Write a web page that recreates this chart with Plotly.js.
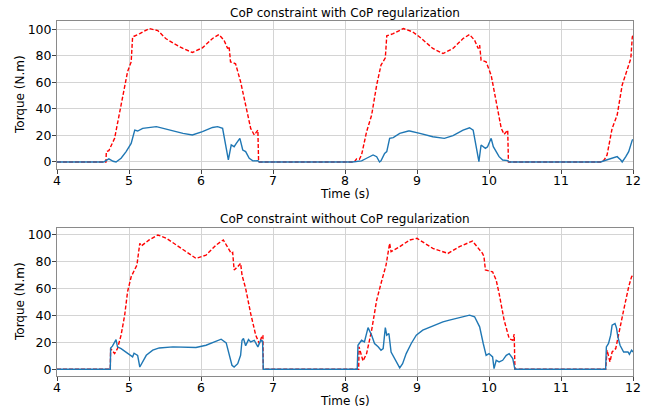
<!DOCTYPE html>
<html>
<head>
<meta charset="utf-8">
<script src="https://cdn.plot.ly/plotly-3.0.1.min.js"></script>
<style>html,body{margin:0;padding:0;background:#fff;}#chart{width:656px;height:411px;}</style>
</head>
<body>
<div id="chart"></div>
<script>
// ---- Data ----
const titleTop = "CoP constraint with CoP regularization";
const titleBottom = "CoP constraint without CoP regularization";
const xLabel = "Time (s)";
const yLabel = "Torque (N.m)";
const xTicks = [4, 5, 6, 7, 8, 9, 10, 11, 12];
const yTicks = [0, 20, 40, 60, 80, 100];

// Top subplot: red dashed series
const tTopRed = [4, 4.68, 4.685, 4.72, 4.80, 4.87, 4.94, 4.98, 5.03, 5.05, 5.15, 5.28, 5.40, 5.51, 5.63, 5.75, 5.88, 6.02, 6.16, 6.25, 6.32, 6.37, 6.39, 6.41, 6.48, 6.55, 6.62, 6.69, 6.74, 6.79, 6.80,
  8.13, 8.16, 8.20, 8.23, 8.30, 8.37, 8.44, 8.50, 8.56, 8.58, 8.67, 8.81, 8.94, 9.04, 9.22, 9.36, 9.50, 9.64, 9.73, 9.80, 9.85, 9.87, 9.89, 9.96, 10.03, 10.10, 10.17, 10.21, 10.26, 10.27,
  11.55, 11.60, 11.64, 11.71, 11.78, 11.85, 11.92, 11.97, 11.99, 12];
const vTopRed = [0, 0, 7.8, 8.5, 17.8, 37.8, 56.6, 68, 75.4, 94.2, 96.7, 100.5, 99, 93, 89, 85.5, 82.5, 86, 93, 96, 91.7, 85.5, 87, 75.4, 74, 60.4, 42.9, 25.3, 20.3, 24, 0,
  0, 2.3, 2, 5.3, 22.8, 35.3, 58, 73, 78.4, 95, 96.7, 100.5, 98, 94, 85.5, 81.7, 85.5, 93, 96, 91.7, 85.5, 88, 76.7, 75.4, 65.4, 45.4, 25.3, 20.8, 24, 0,
  0, 1.5, 5.3, 25.3, 35.3, 58, 70.4, 78, 94, 96];

// Top subplot: blue solid series
const tTopBlue = [4, 4.65, 4.68, 4.72, 4.78, 4.82, 4.89, 4.96, 5.03, 5.08, 5.12, 5.19, 5.38, 5.56, 5.75, 5.88, 6.02, 6.16, 6.23, 6.30, 6.35, 6.38, 6.42, 6.46, 6.49, 6.54, 6.58, 6.62, 6.67, 6.72, 6.79, 6.81,
  8.10, 8.23, 8.30, 8.35, 8.39, 8.44, 8.48, 8.50, 8.55, 8.58, 8.62, 8.67, 8.76, 8.88, 8.90, 9.04, 9.22, 9.38, 9.50, 9.64, 9.73, 9.78, 9.82, 9.86, 9.89, 9.92, 9.95, 9.98, 10.03, 10.06, 10.10, 10.14, 10.19, 10.26, 10.28,
  11.55, 11.62, 11.71, 11.78, 11.83, 11.85, 11.90, 11.94, 11.99, 12];
const vTopBlue = [0, 0, 1, 2.3, 0.5, 0, 2.8, 7.8, 14, 24, 23.3, 25.3, 26.6, 24, 21.5, 20.3, 22.8, 26, 26.6, 25.3, 10.3, 1.5, 12.8, 11.5, 14, 17.8, 9, 7.8, 2.8, 0.8, 1, 0,
  0, 0.8, 2.8, 4, 5.3, 4, 0, 0.8, 6.5, 7.8, 17.8, 18.3, 21.5, 23.3, 23.3, 21.5, 19, 17.8, 19.8, 24, 25.8, 24, 12.8, 0.3, 12.8, 11.5, 10.3, 11.5, 17.8, 11.5, 7.8, 4, 1.5, 1, 0,
  0, 1.3, 2.8, 4, 1.5, 0, 4, 7.8, 16.5, 17];

// Bottom subplot: red dashed series
const tBotRed = [4, 4.74, 4.745, 4.80, 4.84, 4.89, 4.94, 4.98, 5.03, 5.08, 5.11, 5.15, 5.17, 5.28, 5.40, 5.52, 5.75, 5.93, 6.07, 6.21, 6.31, 6.37, 6.42, 6.44, 6.46, 6.51, 6.55, 6.57, 6.62, 6.69, 6.76, 6.81, 6.85, 6.86, 6.865,
  8.19, 8.195, 8.25, 8.30, 8.37, 8.44, 8.50, 8.57, 8.62, 8.64, 8.76, 8.90, 9.00, 9.22, 9.43, 9.59, 9.77, 9.84, 9.91, 9.93, 9.95, 10.05, 10.10, 10.14, 10.21, 10.28, 10.33, 10.35, 10.36,
  11.62, 11.64, 11.68, 11.71, 11.76, 11.80, 11.87, 11.94, 11.98, 12];
const vBotRed = [0, 0, 15.4, 11.7, 15.4, 25.4, 40.3, 57.7, 68.9, 73.9, 77.6, 93.8, 91.8, 96.3, 100, 97.5, 88.8, 82.6, 85, 92.5, 96.3, 91.3, 86.3, 87, 73.9, 76.4, 78.9, 70.1, 60.2, 41.5, 25.4, 19.2, 25.4, 25, 0,
  0, 16.7, 6.2, 11.7, 29.1, 51.5, 63.9, 77.6, 93.8, 87.6, 91.3, 96.3, 97.5, 90, 86.3, 91.3, 95.5, 91.3, 86.3, 84, 73.9, 72.6, 66.4, 56.5, 36.6, 22.9, 21.6, 26.1, 0,
  0, 14.2, 5.5, 12.9, 15.4, 26.6, 44, 61.4, 68.9, 70.1];

// Bottom subplot: blue solid series
const tBotBlue = [4, 4.74, 4.745, 4.77, 4.82, 4.84, 4.89, 4.96, 5.05, 5.07, 5.12, 5.15, 5.19, 5.24, 5.33, 5.42, 5.61, 5.75, 5.93, 6.07, 6.21, 6.28, 6.35, 6.40, 6.43, 6.46, 6.51, 6.55, 6.57, 6.59, 6.62, 6.66, 6.69, 6.74, 6.79, 6.83, 6.855, 6.865,
  8.17, 8.18, 8.23, 8.27, 8.32, 8.37, 8.41, 8.46, 8.50, 8.53, 8.56, 8.58, 8.61, 8.64, 8.69, 8.76, 8.80, 8.85, 8.92, 8.99, 9.08, 9.22, 9.36, 9.45, 9.59, 9.73, 9.80, 9.87, 9.92, 9.96, 10.00, 10.05, 10.07, 10.10, 10.14, 10.19, 10.24, 10.28, 10.33, 10.36,
  11.62, 11.63, 11.66, 11.69, 11.71, 11.75, 11.77, 11.79, 11.82, 11.87, 11.93, 11.95, 11.98, 12];
const vBotBlue = [0, 0, 15.9, 17.2, 22.1, 16.7, 15.4, 12.9, 9.2, 12, 10.4, 1.7, 5.5, 10.4, 14.2, 15.9, 16.7, 16.7, 16.2, 17.9, 21.1, 22.4, 19.7, 9.2, 3, 1.7, 4.2, 10.4, 21.6, 22.9, 17.5, 22.1, 20.4, 21.6, 16.7, 21.6, 21, 0,
  0, 17.9, 21.6, 20.4, 31, 25.4, 19.2, 16.7, 14.2, 15.4, 31, 25.4, 26.6, 12.9, 8, 1, 4.2, 11.7, 19.2, 25.4, 29.1, 32.1, 35.3, 36.6, 38.6, 40.3, 39.1, 31.6, 19.2, 10.4, 11.7, 9.2, 0.5, 6.7, 5.5, 6.7, 10.4, 11.7, 8, 0,
  0, 16.7, 19.2, 25.4, 32.8, 34.1, 31, 24.1, 17.9, 12.9, 12.9, 11.2, 14.2, 12.9];

// ---- Styling ----
const FONT = "DejaVu Sans, sans-serif";
const redLine = {color: "#ff0000", width: 1.4, dash: "4px,2px"};
const blueLine = {color: "#1f77b4", width: 1.4};

const traces = [
  {x: tTopRed, y: vTopRed, xaxis: "x", yaxis: "y", mode: "lines", line: redLine, hoverinfo: "skip"},
  {x: tTopBlue, y: vTopBlue, xaxis: "x", yaxis: "y", mode: "lines", line: blueLine, hoverinfo: "skip"},
  {x: tBotRed, y: vBotRed, xaxis: "x2", yaxis: "y2", mode: "lines", line: redLine, hoverinfo: "skip"},
  {x: tBotBlue, y: vBotBlue, xaxis: "x2", yaxis: "y2", mode: "lines", line: blueLine, hoverinfo: "skip"}
];

const commonAx = {
  showgrid: true, gridcolor: "#d4d4d4", gridwidth: 1, zeroline: false,
  showline: true, linecolor: "#8a8a8a", linewidth: 1, mirror: true,
  ticks: "outside", ticklen: 4, tickcolor: "#444", tickwidth: 1,
  tickfont: {family: FONT, size: 12.5, color: "#000"}
};
function xAx(anchor) {
  return Object.assign({}, commonAx, {
    anchor: anchor, domain: [0, 1], range: [4, 12], tickvals: xTicks, ticktext: xTicks.map(String),
    ticklabelstandoff: -4
  });
}
function yAx(anchor, domain, range) {
  return Object.assign({}, commonAx, {
    anchor: anchor, domain: domain, range: range, tickvals: yTicks, ticktext: yTicks.map(String),
    ticklabelstandoff: -2
  });
}

const H = 411, mt = 21, mb = 35;
const plotH = H - mt - mb;
function py(px) { return (H - mb - px) / plotH; }

const layout = {
  width: 656, height: 411,
  margin: {l: 57, r: 23, t: mt, b: mb, pad: 0},
  paper_bgcolor: "#ffffff", plot_bgcolor: "#ffffff",
  showlegend: false,
  font: {family: FONT, size: 12, color: "#000"},
  xaxis: xAx("y"),
  yaxis: yAx("x", [py(169), 1], [-5.3, 106.2]),
  xaxis2: xAx("y2"),
  yaxis2: yAx("x2", [0, py(228)], [-5, 105.2]),
  annotations: [
    {text: titleTop, xref: "paper", yref: "paper", x: 0.5, y: py(12.5), xanchor: "center", yanchor: "middle", showarrow: false, font: {family: FONT, size: 12, color: "#000"}},
    {text: titleBottom, xref: "paper", yref: "paper", x: 0.5, y: py(219.5), xanchor: "center", yanchor: "middle", showarrow: false, font: {family: FONT, size: 12, color: "#000"}},
    {text: xLabel, xref: "paper", yref: "paper", x: 0.5, y: py(194), xanchor: "center", yanchor: "middle", showarrow: false, font: {family: FONT, size: 12, color: "#000"}},
    {text: xLabel, xref: "paper", yref: "paper", x: 0.5, y: py(401), xanchor: "center", yanchor: "middle", showarrow: false, font: {family: FONT, size: 12, color: "#000"}},
    {text: yLabel, xref: "paper", yref: "paper", x: -37 / 576, y: py(95), xanchor: "center", yanchor: "middle", textangle: -90, showarrow: false, font: {family: FONT, size: 12, color: "#000"}},
    {text: yLabel, xref: "paper", yref: "paper", x: -37 / 576, y: py(302), xanchor: "center", yanchor: "middle", textangle: -90, showarrow: false, font: {family: FONT, size: 12, color: "#000"}}
  ]
};

Plotly.newPlot("chart", traces, layout, {staticPlot: true, displayModeBar: false});
</script>
</body>
</html>
